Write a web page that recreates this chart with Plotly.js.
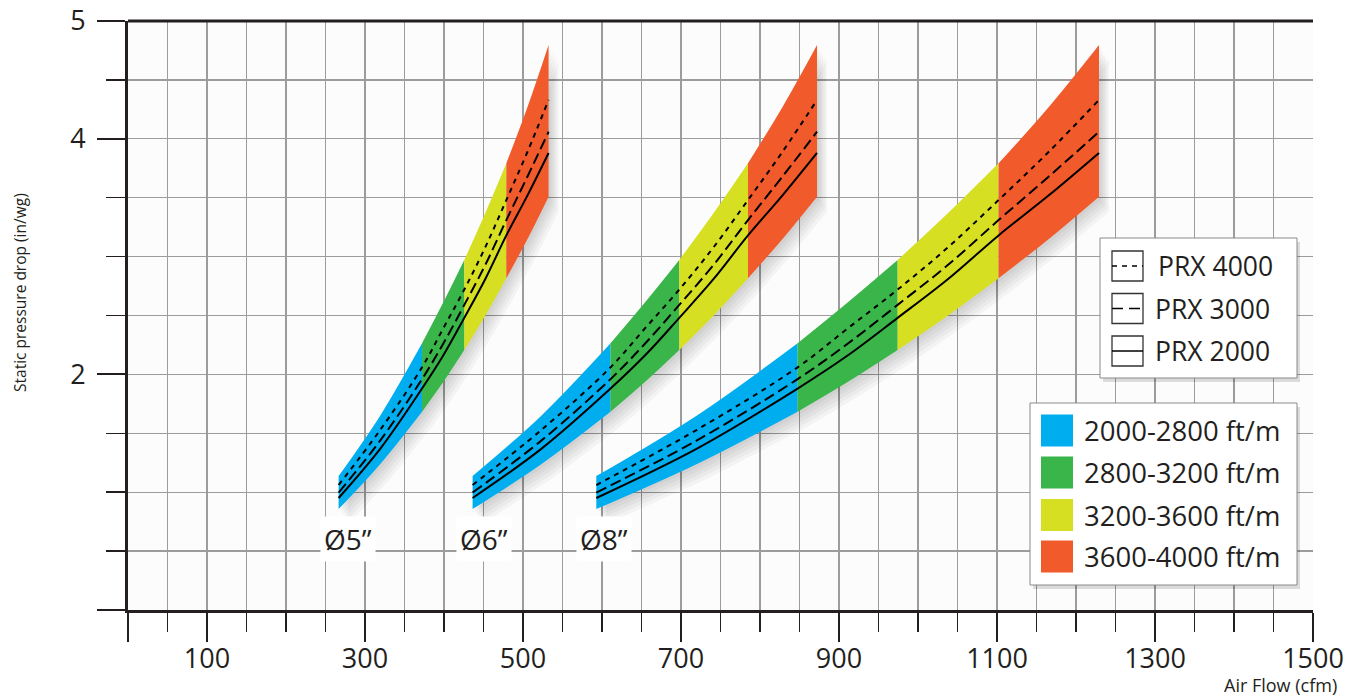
<!DOCTYPE html>
<html>
<head>
<meta charset="utf-8">
<script src="https://cdn.plot.ly/plotly-3.0.1.min.js"></script>
<style>html,body{margin:0;padding:0;background:#fff;}#chart{width:1359px;height:698px;}</style>
</head>
<body>
<div id="chart"></div>
<script>
// ---------- data ----------
const velocityBands = ['2000-2800 ft/m', '2800-3200 ft/m', '3200-3600 ft/m', '3600-4000 ft/m'];
const bandColors = ['#00aeef', '#39b54a', '#d7df23', '#f15a2b'];
const ductLabels = ['Ø5”', 'Ø6”', 'Ø8”'];
const ductLabelX = [279, 451, 603];
const ductLabelY = [0.603, 0.603, 0.603];
// airflow (cfm) sample points along each duct band; even indices are velocity boundaries
const flow5 = [266.6, 319.4, 372.2, 399.0, 425.7, 452.3, 478.9, 505.7, 532.4];
const flow6 = [436.2, 523.5, 610.8, 654.3, 697.8, 741.3, 784.8, 828.5, 872.2];
const flow8 = [592.8, 720.2, 847.6, 910.9, 974.2, 1038.1, 1102.0, 1165.6, 1229.1];
// static pressure (in/wg) at the sample points
const bandTop    = [1.137, 1.652, 2.264, 2.61, 2.971, 3.37, 3.792, 4.27, 4.796];
const bandBottom = [0.857, 1.24, 1.683, 1.935, 2.207, 2.50, 2.816, 3.15, 3.509];
const prx4000 = [1.061, 1.53, 2.06, 2.39, 2.72, 3.08, 3.48, 3.89, 4.33];
const prx3000 = [0.997, 1.44, 1.96, 2.26, 2.59, 2.93, 3.31, 3.68, 4.06];
const prx2000 = [0.951, 1.37, 1.88, 2.16, 2.48, 2.81, 3.18, 3.52, 3.88];
const modelNames = ['PRX 4000', 'PRX 3000', 'PRX 2000'];
const xTickVals = [0, 100, 300, 500, 700, 900, 1100, 1300, 1500];
const xTickText = ['', '100', '300', '500', '700', '900', '1100', '1300', '1500'];
const yTickVals = [0, 2, 4, 5];
const yTickText = ['', '2', '4', '5'];

// ---------- styling ----------
const INK = '#231f20';
const FONT = 'Open Sans, Liberation Sans, sans-serif';
const GRID = '#9c9c9c';
const PXX = 1185 / 1500, PXY = 589 / 5;   // pixels per data unit
const lineDashes = ['5px,5px', '11px,5px', 'solid'];
const shadowSteps = [[2, 3], [4, 6], [6, 9], [8, 12], [10, 15]];

const flows = [flow5, flow6, flow8];
const lineSeries = [prx4000, prx3000, prx2000];
const traces = [];

// shadows
flows.forEach(fl => {
  shadowSteps.forEach(([dx, dy]) => {
    traces.push({
      type: 'scatter', mode: 'lines', hoverinfo: 'skip',
      x: fl.concat(fl.slice().reverse()).map(v => v + dx / PXX),
      y: bandTop.concat(bandBottom.slice().reverse()).map(v => v - dy / PXY),
      fill: 'toself', fillcolor: 'rgba(0,0,0,0.035)', line: {width: 0}
    });
  });
});

// coloured velocity bands (bottom edge, then top edge filled down to it)
flows.forEach(fl => {
  velocityBands.forEach((name, s) => {
    const i0 = 2 * s, i1 = 2 * s + 3;
    const xs = fl.slice(i0, i1);
    traces.push({
      type: 'scatter', mode: 'lines', hoverinfo: 'skip',
      x: xs, y: bandBottom.slice(i0, i1),
      line: {width: 0, shape: 'spline', smoothing: 1, color: bandColors[s]}
    });
    traces.push({
      type: 'scatter', mode: 'lines', name: name, hoverinfo: 'skip',
      x: xs, y: bandTop.slice(i0, i1),
      fill: 'tonexty', fillcolor: bandColors[s],
      line: {width: 0, shape: 'spline', smoothing: 1, color: bandColors[s]}
    });
  });
});

// model curves
flows.forEach(fl => {
  lineSeries.forEach((ys, k) => {
    traces.push({
      type: 'scatter', mode: 'lines', name: modelNames[k], hoverinfo: 'skip',
      x: fl, y: ys,
      line: {color: '#000', width: 2, dash: lineDashes[k], shape: 'spline', smoothing: 1}
    });
  });
});

// ---------- legend boxes (pixel helpers) ----------
const PX = x => (x - 128) / 1185;
const PY = y => (610 - y) / 589;
const shapes = [
  {type: 'line', xref: 'paper', yref: 'paper', x0: 0, x1: 1, y0: 1, y1: 1, line: {color: INK, width: 3}}
];
const annotations = [];

function box(x0, y0, x1, y1) {
  shapes.push({type: 'rect', xref: 'paper', yref: 'paper', layer: 'above',
    x0: PX(x0 + 3), x1: PX(x1 + 3), y0: PY(y0 + 4), y1: PY(y1 + 4),
    fillcolor: 'rgba(0,0,0,0.13)', line: {width: 0}});
  shapes.push({type: 'rect', xref: 'paper', yref: 'paper', layer: 'above',
    x0: PX(x0), x1: PX(x1), y0: PY(y0), y1: PY(y1),
    fillcolor: '#ffffff', line: {color: '#8a8a8a', width: 1}});
}

// line legend
box(1100, 238, 1297, 378);
const lineRowsY = [266, 308.5, 351];
modelNames.forEach((nm, k) => {
  const cy = lineRowsY[k];
  shapes.push({type: 'rect', xref: 'paper', yref: 'paper', layer: 'above',
    x0: PX(1112), x1: PX(1143), y0: PY(cy - 15), y1: PY(cy + 15),
    fillcolor: 'rgba(0,0,0,0)', line: {color: '#333', width: 1.3}});
  shapes.push({type: 'line', xref: 'paper', yref: 'paper', layer: 'above',
    x0: PX(1112), x1: PX(1143), y0: PY(cy), y1: PY(cy),
    line: {color: '#000', width: 1.5, dash: k === 0 ? '5px,5px' : (k === 1 ? '11px,6px' : 'solid')}});
  annotations.push({xref: 'paper', yref: 'paper', x: PX(k === 0 ? 1156 : 1153), y: PY(cy),
    xanchor: 'left', yanchor: 'middle', showarrow: false, text: nm,
    font: {family: FONT, size: 26.5, color: INK}});
});

// colour legend
box(1030, 403, 1297, 585);
const colorRowsY = [430.5, 472.5, 515, 556.5];
velocityBands.forEach((nm, s) => {
  const cy = colorRowsY[s];
  shapes.push({type: 'rect', xref: 'paper', yref: 'paper', layer: 'above',
    x0: PX(1041), x1: PX(1073), y0: PY(cy - 16), y1: PY(cy + 16),
    fillcolor: bandColors[s], line: {width: 0}});
  annotations.push({xref: 'paper', yref: 'paper', x: PX(1082), y: PY(cy),
    xanchor: 'left', yanchor: 'middle', showarrow: false, text: nm,
    font: {family: FONT, size: 27.5, color: INK}});
});

// duct labels
ductLabels.forEach((t, i) => {
  annotations.push({xref: 'x', yref: 'y', x: ductLabelX[i], y: ductLabelY[i], showarrow: false,
    text: t, bgcolor: '#ffffff', borderpad: 3,
    font: {family: FONT, size: 28, color: INK}});
});

// axis titles
annotations.push({xref: 'paper', yref: 'paper', x: PX(20), y: PY(293), showarrow: false,
  text: 'Static pressure drop (in/wg)', textangle: -90, xanchor: 'center', yanchor: 'middle',
  font: {family: FONT, size: 15.5, color: INK}});
annotations.push({xref: 'paper', yref: 'paper', x: PX(1339), y: PY(685), showarrow: false,
  text: 'Air Flow (cfm)', xanchor: 'right', yanchor: 'middle',
  font: {family: FONT, size: 18, color: INK}});

const axisCommon = {
  ticks: 'outside', tickwidth: 2, tickcolor: INK,
  showline: true, linewidth: 3, linecolor: INK,
  showgrid: true, gridcolor: GRID, gridwidth: 1.3, zeroline: false,
  tickfont: {family: FONT, size: 27, color: INK}, fixedrange: true
};

const layout = {
  width: 1359, height: 698,
  margin: {l: 128, r: 46, t: 21, b: 88, pad: 0},
  paper_bgcolor: '#ffffff', plot_bgcolor: '#fcfcfc',
  showlegend: false, hovermode: false,
  xaxis: Object.assign({}, axisCommon, {
    range: [0, 1500], tickmode: 'array', tickvals: xTickVals, ticktext: xTickText,
    ticklen: 29, ticklabelstandoff: -6,
    minor: {tick0: 0, dtick: 50, ticks: 'outside', ticklen: 19, tickwidth: 1.5, tickcolor: INK,
      showgrid: true, gridcolor: GRID, gridwidth: 1.3}
  }),
  yaxis: Object.assign({}, axisCommon, {
    range: [0, 5], tickmode: 'array', tickvals: yTickVals, ticktext: yTickText,
    ticklen: 28, ticklabelstandoff: 6,
    minor: {tick0: 0, dtick: 0.5, ticks: 'outside', ticklen: 19, tickwidth: 1.5, tickcolor: INK,
      showgrid: true, gridcolor: GRID, gridwidth: 1.3}
  }),
  shapes: shapes,
  annotations: annotations
};

Plotly.newPlot('chart', traces, layout, {displayModeBar: false, staticPlot: true});
</script>
</body>
</html>
